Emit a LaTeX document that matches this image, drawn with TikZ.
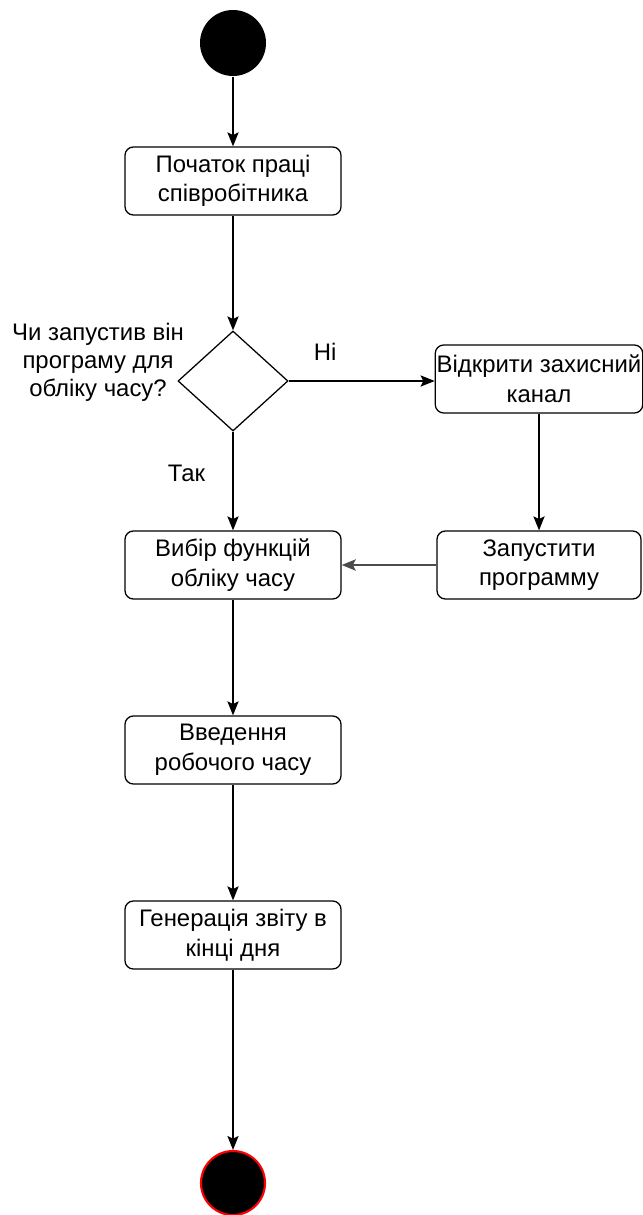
\documentclass[tikz,border=0pt]{standalone}
\usepackage{fontspec}
\setmainfont{Liberation Sans}
\usetikzlibrary{arrows.meta,shapes.geometric}

\begin{document}
\begin{tikzpicture}[x=0.025cm, y=-0.025cm,
    font=\fontsize{17}{21}\selectfont,
    line width=0.9pt,
    action/.style={draw, rounded corners=6pt, align=center, minimum width=5.4cm, minimum height=1.7cm, inner sep=1pt},
    sideaction/.style={action, minimum width=5.1cm},
    decision/.style={draw, diamond, minimum width=2.75cm, minimum height=2.5cm, inner sep=0pt},
    initial/.style={circle, fill=black, minimum size=1.65cm, inner sep=0pt},
    final/.style={circle, fill=black, draw=red, line width=1.5pt, minimum size=1.6cm, inner sep=0pt},
    flow/.style={-{Stealth[length=10pt,width=8pt,inset=2pt]}}]
            \useasboundingbox (0,0) rectangle (643,1215);
            \node[initial] (start) at (233,43) {};
            \node[action] (begin) at (233,181) {Початок праці\\співробітника};
            \node[decision] (check) at (233,381) {};
            \node[align=center, font=\fontsize{17}{20}\selectfont] (question) at (98,362) {Чи запустив він\\програму для\\обліку часу?};
            \node[sideaction] (channel) at (539,379) {Відкрити захисний\\канал};
            \node[sideaction] (launch) at (539,565) {Запустити\\программу};
            \node[action] (choose) at (233,565) {Вибір функцій\\обліку часу};
            \node[action] (enter) at (233,750) {Введення\\робочого часу};
            \node[action] (report) at (233,935) {Генерація звіту в\\кінці дня};
            \node[final] (stop) at (233,1183) {};
            \draw[flow](start) -- (begin);
            \draw[flow](begin) -- (check);
            \draw[flow](check) -- (channel.west |- check) node[pos=0.25, above=11pt]{Ні};
            \draw[flow](check) -- (choose) node[pos=0.42, left=16pt]{Так};
            \draw[flow](channel) -- (launch);
            \draw[flow, draw=black!70, line width=1.3pt](launch) -- (choose);
            \draw[flow](choose) -- (enter);
            \draw[flow](enter) -- (report);
            \draw[flow](report) -- (stop);
        \end{tikzpicture}
\end{document}
